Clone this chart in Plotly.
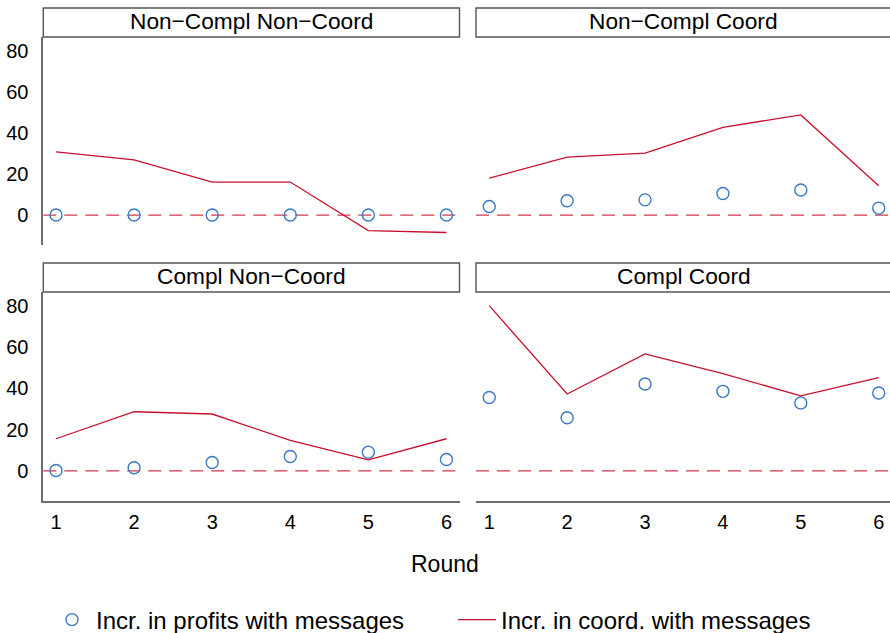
import plotly.graph_objects as go

rounds = [1, 2, 3, 4, 5, 6]
panel_titles = ["Non\u2212Compl Non\u2212Coord", "Non\u2212Compl Coord",
                "Compl Non\u2212Coord", "Compl Coord"]
profits = [
    [0, 0, 0, 0, 0, 0],
    [4.2, 7.0, 7.4, 10.5, 12.2, 3.4],
    [0.2, 1.5, 4.1, 7.0, 9.1, 5.5],
    [35.6, 25.8, 42.2, 38.6, 33.0, 37.8],
]
coord = [
    [30.8, 26.9, 16.1, 16.1, -7.6, -8.5],
    [18.0, 28.2, 30.2, 42.8, 48.8, 14.3],
    [15.6, 28.7, 27.6, 14.8, 5.4, 15.6],
    [80.2, 37.3, 56.8, 47.2, 36.4, 45.3],
]
y_ticks = [0, 20, 40, 60, 80]

W, H = 890, 633
FONT = "Liberation Sans, Arial, Helvetica, sans-serif"
RED = "#C8102E"
BLUE = "#3B78C3"
AXIS = "#6e6e6e"

# pixel geometry -> paper
xdom = [(43.3 / W, 459.5 / W), (476 / W, 1.0)]
ydom = [(1 - 245 / H, 1 - 37 / H), (1 - 501 / H, 1 - 292 / H)]
strip_h = 29

fig = go.Figure()
for i in range(4):
    r, c = divmod(i, 2)
    ax = "" if i == 0 else str(i + 1)
    fig.add_trace(go.Scatter(
        x=rounds, y=profits[i], mode="markers",
        marker=dict(symbol="circle-open", size=12, color=BLUE, line=dict(width=1.4, color=BLUE)),
        name="Incr. in profits with messages", showlegend=(i == 0),
        xaxis="x" + ax, yaxis="y" + ax))
    fig.add_trace(go.Scatter(
        x=rounds, y=coord[i], mode="lines",
        line=dict(color=RED, width=1.3),
        name="Incr. in coord. with messages", showlegend=(i == 0),
        xaxis="x" + ax, yaxis="y" + ax))
    fig.add_shape(type="line", xref=f"x{ax} domain", yref="y" + ax,
                  x0=0, x1=1, y0=0, y1=0,
                  line=dict(color="#D2394F", width=1.3, dash="13px,8px"), layer="below")
    xr = [0.837, 6.167] if c == 0 else [0.83, 6.145]
    fig.update_layout(**{
        "xaxis" + ax: dict(domain=list(xdom[c]), range=xr, anchor="y" + ax,
                           showgrid=False, zeroline=False,
                           showline=(r == 1), linecolor=AXIS, linewidth=1.8,
                           showticklabels=(r == 1), tickvals=rounds, ticks="",
                           ticklabelstandoff=2,
                           tickfont=dict(size=20, color="black", family=FONT)),
        "yaxis" + ax: dict(domain=list(ydom[r]), range=[-14.6, 86.8], anchor="x" + ax,
                           showgrid=False, zeroline=False,
                           showline=(c == 0), linecolor=AXIS, linewidth=1.8,
                           showticklabels=(c == 0), tickvals=y_ticks, ticks="",
                           ticklabelstandoff=9,
                           tickfont=dict(size=20, color="black", family=FONT)),
    })
    # strip
    y0 = ydom[r][1]
    y1 = y0 + strip_h / H
    fig.add_shape(type="rect", xref="paper", yref="paper",
                  x0=xdom[c][0], x1=xdom[c][1] + (0.01 if c == 1 else 0), y0=y0, y1=y1,
                  line=dict(color="#555555", width=1.4), fillcolor="white")
    fig.add_annotation(text=panel_titles[i], xref="paper", yref="paper",
                       x=(xdom[c][0] + (xdom[c][1] if c == 0 else 891.7 / W)) / 2,
                       y=(y0 + y1) / 2 + 1.5 / H, showarrow=False, xanchor="center", yanchor="middle",
                       font=dict(size=22.7, color="black", family=FONT))

fig.add_annotation(text="Round", xref="paper", yref="paper", x=445 / W, y=1 - 564 / H,
                   showarrow=False, xanchor="center", yanchor="middle",
                   font=dict(size=23, color="black", family=FONT))

fig.update_layout(
    width=W, height=H, margin=dict(l=0, r=0, t=0, b=0, autoexpand=False),
    paper_bgcolor="white", plot_bgcolor="white",
    font=dict(family=FONT, color="black"),
    legend=dict(orientation="h", x=48 / W, y=1 - 620 / H, xanchor="left", yanchor="middle",
                font=dict(size=24, color="black", family=FONT),
                itemwidth=38,
                entrywidth=352, entrywidthmode="pixels", bgcolor="rgba(0,0,0,0)"),
)

fig.write_html("out.html")
